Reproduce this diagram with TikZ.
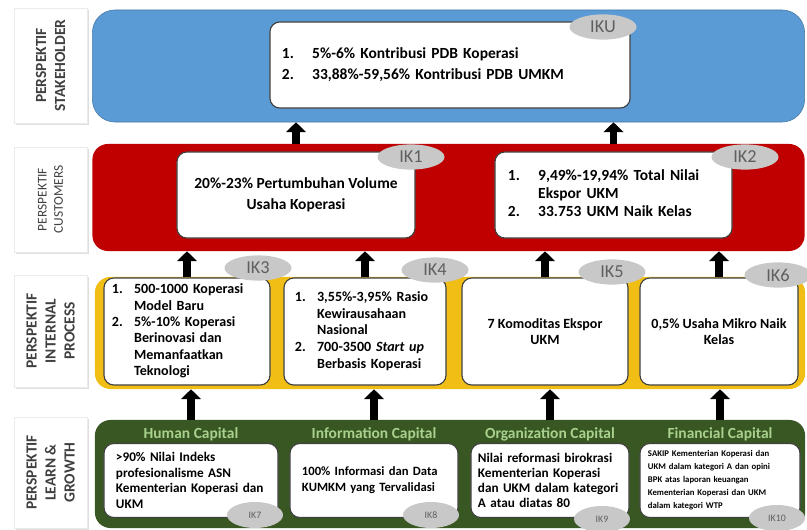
\documentclass[tikz,border=0pt]{standalone}
\usepackage{fontspec}
\setmainfont{Carlito}
\usepackage{tikz}
\usetikzlibrary{positioning, shapes.geometric, arrows.meta, shadows}
\definecolor{bscBlue}{RGB}{91,155,213}
\definecolor{bscBlueLine}{RGB}{70,120,165}
\definecolor{bscRed}{RGB}{192,0,0}
\definecolor{bscYellow}{RGB}{240,190,20}
\definecolor{bscGreen}{RGB}{56,87,35}
\definecolor{bscHead}{RGB}{169,209,142}
\definecolor{bscTag}{RGB}{200,200,200}
\definecolor{bscTagText}{RGB}{95,95,95}
\definecolor{bscLabel}{RGB}{64,64,64}

\begin{document}
\begin{tikzpicture}[
        x=0.025cm, y=-0.025cm,
        persp/.style={
            rectangle, draw=black!8, fill=white, text=bscLabel,
            drop shadow={opacity=0.25, shadow xshift=1.5pt, shadow yshift=-1.5pt},
            font=\bfseries\fontsize{11}{13.5}\selectfont,
            minimum height=1.825cm, align=center, inner sep=2pt
        },
        band/.style={
            rectangle, rounded corners=11pt, minimum width=17.8cm, inner sep=0pt
        },
        kpi/.style={
            rectangle, rounded corners=7pt, draw=black!75, line width=0.8pt,
            fill=white, inner sep=0pt, align=left
        },
        tag/.style={
            ellipse, fill=bscTag, text=bscTagText, inner sep=0pt,
            font=\fontsize{13}{14}\selectfont,
            minimum width=1.675cm, minimum height=0.63cm
        },
        smalltag/.style={
            tag, font=\fontsize{7}{8}\selectfont,
            minimum width=1.4cm, minimum height=0.65cm
        },
        head/.style={
            text=bscHead, font=\bfseries\fontsize{11}{12}\selectfont, inner sep=1pt
        },
        up/.style={-{Triangle[width=14pt,length=7pt]}, line width=5.5pt, draw=black}
    ]

    \useasboundingbox (0,0) rectangle (807,530);

    % PERSPECTIVE LABELS (left column)
    \node[persp, rotate=90, minimum width=2.875cm] (lStake) at (50.5,65.5) {PERSPEKTIF\\STAKEHOLDER};
    \node[persp, rotate=90, minimum width=2.625cm, font=\fontsize{9.5}{11.5}\selectfont] (lCust) at (50.5,199.5) {PERSPEKTIF\\CUSTOMERS};
    \node[persp, rotate=90, minimum width=2.8cm] (lProc) at (50.5,331) {PERSPEKTIF\\INTERNAL\\PROCESS};
    \node[persp, rotate=90, minimum width=2.775cm] (lLearn) at (50.5,472.5) {PERSPEKTIF\\LEARN \&\\GROWTH};

    % BANDS
    \node[band, fill=bscBlue, draw=bscBlueLine, rounded corners=16pt, minimum height=2.8cm] (bandStake) at (448.5,66) {};
    \node[band, fill=bscRed, minimum height=2.675cm] (bandCust) at (448.5,197.5) {};
    \node[band, fill=bscYellow, minimum width=17.75cm, minimum height=2.8cm] (bandProc) at (450,333) {};
    \node[band, fill=bscGreen, minimum width=17.75cm, minimum height=2.7cm] (bandLearn) at (450,474) {};

    % STAKEHOLDER
    \node[kpi, minimum width=9cm, minimum height=2.15cm, text width=8.4cm,
          font=\bfseries\fontsize{11}{15}\selectfont] (iku) at (450,65)
        {\begin{tabular}{@{}l@{\hspace{13pt}}l@{}}
         1. & 5\%-6\% Kontribusi PDB Koperasi\\
         2. & 33,88\%-59,56\% Kontribusi PDB UMKM
         \end{tabular}};

    % CUSTOMERS
    \node[kpi, minimum width=5.95cm, minimum height=2.15cm, align=center,
          font=\bfseries\fontsize{11}{15}\selectfont] (ik1) at (296,195)
        {20\%-23\% Pertumbuhan Volume\\Usaha Koperasi};
    \node[kpi, minimum width=5.925cm, minimum height=2.15cm, text width=5.275cm,
          font=\bfseries\fontsize{11}{13}\selectfont] (ik2) at (613.5,195)
        {\begin{tabular}{@{}l@{\hspace{13pt}}l@{}}
         1. & 9,49\%-19,94\% Total Nilai\\
            & Ekspor UKM\\
         2. & 33.753 UKM Naik Kelas
         \end{tabular}\\[4pt]};

    % INTERNAL PROCESS
    \node[kpi, minimum width=4.15cm, minimum height=2.675cm, text width=3.75cm,
          font=\bfseries\fontsize{10}{11.6}\selectfont] (ik3) at (187,331.5)
        {\begin{tabular}{@{}l@{\hspace{8pt}}l@{}}
         1. & 500-1000 Koperasi\\
            & Model Baru\\
         2. & 5\%-10\% Koperasi\\
            & Berinovasi dan\\
            & Memanfaatkan\\
            & Teknologi
         \end{tabular}};
    \node[kpi, minimum width=4.05cm, minimum height=2.675cm, text width=3.5cm,
          font=\bfseries\fontsize{10}{12}\selectfont] (ik4) at (365,331.5)
        {\begin{tabular}{@{}l@{\hspace{8pt}}l@{}}
         1. & 3,55\%-3,95\% Rasio\\
            & Kewirausahaan\\
            & Nasional\\
         2. & 700-3500 \textit{Start up}\\
            & Berbasis Koperasi
         \end{tabular}};
    \node[kpi, minimum width=4.15cm, minimum height=2.675cm, align=center,
          font=\bfseries\fontsize{10}{11.6}\selectfont] (ik5) at (545,331.5)
        {7 Komoditas Ekspor\\UKM};
    \node[kpi, minimum width=3.95cm, minimum height=2.675cm, align=center,
          font=\bfseries\fontsize{10}{11.6}\selectfont] (ik6) at (719,331.5)
        {0,5\% Usaha Mikro Naik\\Kelas};

    % LEARN & GROWTH
    \node[kpi, minimum width=4.35cm, minimum height=1.85cm, text width=3.75cm,
          font=\bfseries\fontsize{9.4}{11}\selectfont] (ik7) at (191,480.5)
        {>90\% Nilai Indeks\\profesionalisme ASN\\Kementerian Koperasi dan\\UKM};
    \node[kpi, minimum width=4.2cm, minimum height=1.85cm, text width=3.6cm,
          font=\bfseries\fontsize{9}{11.5}\selectfont] (ik8) at (374,480.5)
        {100\% Informasi dan Data\\KUMKM yang Tervalidasi};
    \node[kpi, minimum width=3.95cm, minimum height=1.85cm, text width=3.6cm,
          font=\bfseries\fontsize{9.4}{10.5}\selectfont] (ik9) at (550,480.5)
        {Nilai reformasi birokrasi\\Kementerian Koperasi\\dan UKM dalam kategori\\A atau diatas 80};
    \node[kpi, minimum width=4cm, minimum height=1.85cm, text width=3.6cm,
          font=\bfseries\fontsize{6.2}{9.2}\selectfont] (ik10) at (720,480.5)
        {SAKIP Kementerian Koperasi dan\\UKM dalam kategori A dan opini\\BPK atas laporan keuangan\\Kementerian Koperasi dan UKM\\dalam kategori WTP};

    % CAPITAL HEADINGS
    \node[head, above=0pt of ik7] (hHuman) {Human Capital};
    \node[head, above=0pt of ik8] (hInfo) {Information Capital};
    \node[head, above=0pt of ik9] (hOrg) {Organization Capital};
    \node[head, above=0pt of ik10] (hFin) {Financial Capital};

    % ARROWS (bottom to top)
    \draw[up] (bandCust.north -| ik1) -- (bandStake.south -| ik1);
    \draw[up] (bandCust.north -| ik2) -- (bandStake.south -| ik2);

    \draw[up] (bandProc.north -| ik3) -- (bandCust.south -| ik3);
    \draw[up] (bandProc.north -| ik4) -- (bandCust.south -| ik4);
    \draw[up] (bandProc.north -| ik5) -- (bandCust.south -| ik5);
    \draw[up] (bandProc.north -| ik6) -- (bandCust.south -| ik6);

    \draw[up] (bandLearn.north -| ik7) -- (bandProc.south -| ik7);
    \draw[up] (bandLearn.north -| ik8) -- (bandProc.south -| ik8);
    \draw[up] (bandLearn.north -| ik9) -- (bandProc.south -| ik9);
    \draw[up] (bandLearn.north -| ik10) -- (bandProc.south -| ik10);

    % IK TAGS
    \node[tag] (tIku) at (603,27) {IKU};
    \node[tag] (tIk1) at (411,157) {IK1};
    \node[tag] (tIk2) at (745,157) {IK2};
    \node[tag] (tIk3) at (258,268) {IK3};
    \node[tag] (tIk4) at (435,270) {IK4};
    \node[tag] (tIk5) at (612,272) {IK5};
    \node[tag] (tIk6) at (778,275) {IK6};
    \node[smalltag] (tIk7) at (255,515) {IK7};
    \node[smalltag] (tIk8) at (431,515) {IK8};
    \node[smalltag] (tIk9) at (602,519) {IK9};
    \node[smalltag] (tIk10) at (777,518) {IK10};

    \end{tikzpicture}
\end{document}
